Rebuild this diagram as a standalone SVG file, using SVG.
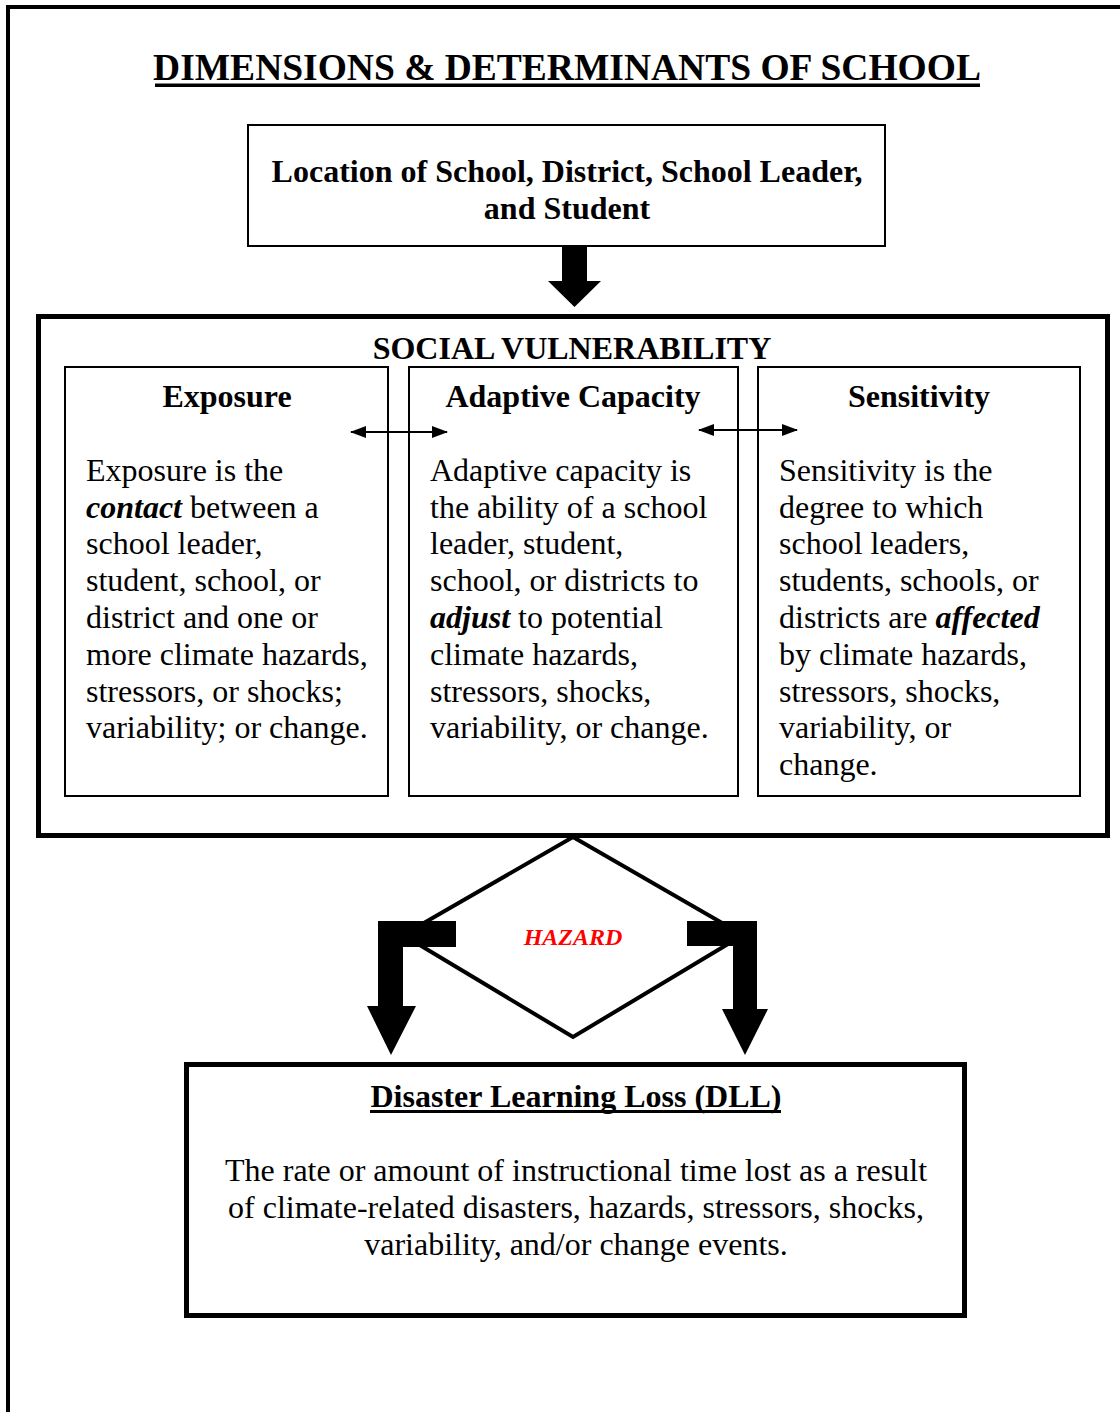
<svg xmlns="http://www.w3.org/2000/svg" width="1120" height="1412" viewBox="0 0 1120 1412">
<style>
text{font-family:"Liberation Serif","Times New Roman",serif;fill:#000}
.t{font-size:37.5px;font-weight:bold}
.h{font-size:32px;font-weight:bold}
.b{font-size:32px}
.bi{font-weight:bold;font-style:italic}
.c{text-anchor:middle}
.box{fill:#fff;stroke:#000;stroke-width:2}
.thick{fill:#fff;stroke:#000;stroke-width:5}
.arr{fill:#000}
.ul{fill:#000}
.dbl{stroke:#000;stroke-width:2;marker-start:url(#ah);marker-end:url(#ah)}
</style>
<defs>
<marker id="ah" viewBox="0 0 16 12" refX="15" refY="6" markerWidth="16" markerHeight="12" markerUnits="userSpaceOnUse" orient="auto-start-reverse">
<path d="M0,0 L16,6 L0,12 Z" fill="#000"/>
</marker>
</defs>
<rect width="1120" height="1412" fill="#fff"/>
<path d="M8,1412 V7 H1120" fill="none" stroke="#000" stroke-width="4"/>
<g id="title">
<text class="t c" x="567" y="80">DIMENSIONS &amp; DETERMINANTS OF SCHOOL</text>
<rect class="ul" x="155" y="83.5" width="825" height="3.5"/>
</g>

<g id="location">
<rect class="box" x="248" y="125" width="637" height="121"/>
<text class="h c" x="567" y="182">Location of School, District, School Leader,</text>
<text class="h c" x="567" y="219">and Student</text>
</g>

<g id="social-vulnerability">
<rect class="thick" x="38.5" y="316.5" width="1069" height="519"/>
<text class="h c" x="572" y="359">SOCIAL VULNERABILITY</text>
</g>

<g id="exposure">
<rect class="box" x="65" y="367" width="323" height="429"/>
<text class="h c" x="227" y="407">Exposure</text>
<text class="b" x="86">
<tspan x="86" y="481">Exposure is the</tspan>
<tspan x="86" y="518"><tspan class="bi">contact</tspan> between a</tspan>
<tspan x="86" y="554">school leader,</tspan>
<tspan x="86" y="591">student, school, or</tspan>
<tspan x="86" y="628">district and one or</tspan>
<tspan x="86" y="665">more climate hazards,</tspan>
<tspan x="86" y="702">stressors, or shocks;</tspan>
<tspan x="86" y="738">variability; or change.</tspan>
</text>
</g>

<g id="adaptive-capacity">
<rect class="box" x="409" y="367" width="329" height="429"/>
<text class="h c" x="573" y="407">Adaptive Capacity</text>
<text class="b" x="430">
<tspan x="430" y="481">Adaptive capacity is</tspan>
<tspan x="430" y="518">the ability of a school</tspan>
<tspan x="430" y="554">leader, student,</tspan>
<tspan x="430" y="591">school, or districts to</tspan>
<tspan x="430" y="628"><tspan class="bi">adjust</tspan> to potential</tspan>
<tspan x="430" y="665">climate hazards,</tspan>
<tspan x="430" y="702">stressors, shocks,</tspan>
<tspan x="430" y="738">variability, or change.</tspan>
</text>
</g>

<g id="sensitivity">
<rect class="box" x="758" y="367" width="322" height="429"/>
<text class="h c" x="919" y="407">Sensitivity</text>
<text class="b" x="779">
<tspan x="779" y="481">Sensitivity is the</tspan>
<tspan x="779" y="518">degree to which</tspan>
<tspan x="779" y="554">school leaders,</tspan>
<tspan x="779" y="591">students, schools, or</tspan>
<tspan x="779" y="628">districts are <tspan class="bi">affected</tspan></tspan>
<tspan x="779" y="665">by climate hazards,</tspan>
<tspan x="779" y="702">stressors, shocks,</tspan>
<tspan x="779" y="738">variability, or</tspan>
<tspan x="779" y="775">change.</tspan>
</text>
</g>

<g id="hazard">
<polygon points="573,837 743,935 573,1037 403,935" fill="none" stroke="#000" stroke-width="4"/>
<text class="c" x="573" y="945" style="font-size:24px;font-weight:bold;font-style:italic;fill:#ff0000">HAZARD</text>
</g>

<g id="dll">
<rect class="thick" x="186.5" y="1064.5" width="778" height="251"/>
<text class="h c" x="576" y="1107">Disaster Learning Loss (DLL)</text>
<rect class="ul" x="370" y="1110" width="411" height="3"/>
<text class="b c" x="576" y="1181">The rate or amount of instructional time lost as a result</text>
<text class="b c" x="576" y="1218">of climate-related disasters, hazards, stressors, shocks,</text>
<text class="b c" x="576" y="1255">variability, and/or change events.</text>
</g>

<g id="connectors">
<polygon class="arr" points="562,246 587,246 587,281 601,281 574.5,307 548,281 562,281"/>
<line class="dbl" x1="351" y1="432" x2="447" y2="432"/>
<line class="dbl" x1="699" y1="430" x2="797" y2="430"/>
<polygon class="arr" points="456,921 378,921 378,1006 367,1006 391,1055 416,1006 403,1006 403,947 456,947"/>
<polygon class="arr" points="687,921 757,921 757,1009 768,1009 745,1055 722,1009 733,1009 733,946 687,946"/>
</g>
</svg>
